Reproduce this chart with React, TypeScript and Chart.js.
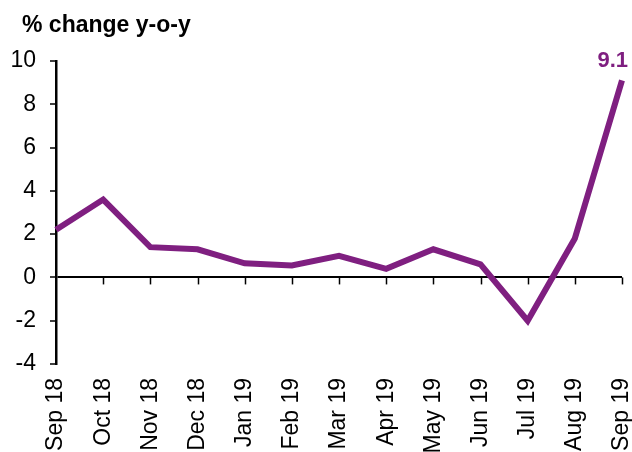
import React, { useEffect, useRef } from "react";
import { Chart, registerables } from "chart.js";

Chart.register(...registerables);

const categories = ["Sep 18", "Oct 18", "Nov 18", "Dec 18", "Jan 19", "Feb 19", "Mar 19", "Apr 19", "May 19", "Jun 19", "Jul 19", "Aug 19", "Sep 19"];
const values = [2.2, 3.6, 1.4, 1.3, 0.65, 0.55, 1.0, 0.4, 1.3, 0.6, -2.0, 1.8, 9.1];
const yTicks = [-4, -2, 0, 2, 4, 6, 8, 10];
const titleText = "% change y-o-y";
const lastLabel = "9.1";

const PURPLE = "#7f1f80";
const FONT = "'Liberation Sans', Arial, sans-serif";

export default function App() {
  const ref = useRef<HTMLCanvasElement | null>(null);

  useEffect(() => {
    if (!ref.current) return;
    const overlay = {
      id: "overlay",
      afterDraw(chart: any) {
        const ctx = chart.ctx;
        const x = chart.scales.x;
        const y = chart.scales.y;
        const y0 = y.getPixelForValue(0);
        ctx.save();
        ctx.strokeStyle = "#000";
        ctx.lineWidth = 1.5;
        for (let i = 1; i < categories.length; i++) {
          const px = Math.round(x.getPixelForValue(i)) + 0.5;
          ctx.beginPath();
          ctx.moveTo(px, y0);
          ctx.lineTo(px, y0 + 7);
          ctx.stroke();
        }
        // value label
        const li = values.length - 1;
        const lx = x.getPixelForValue(li);
        const ly = y.getPixelForValue(values[li]);
        ctx.fillStyle = PURPLE;
        ctx.font = `bold 22px ${FONT}`;
        ctx.textAlign = "right";
        ctx.textBaseline = "alphabetic";
        ctx.fillText(lastLabel, lx + 6, ly - 13);
        // title
        ctx.fillStyle = "#000";
        ctx.textAlign = "left";
        ctx.font = `bold 23px ${FONT}`;
        ctx.fillText(titleText, 22, 32);
        ctx.restore();
      },
    };

    const chart = new Chart(ref.current, {
      type: "line",
      data: {
        labels: categories,
        datasets: [
          {
            data: values,
            borderColor: PURPLE,
            borderWidth: 6,
            pointRadius: 0,
            tension: 0,
            fill: false,
            clip: 10,
            borderJoinStyle: "miter",
          } as any,
        ],
      },
      options: {
        animation: false,
        responsive: false,
        devicePixelRatio: 1,
        layout: { padding: { top: 61, right: 10, left: 0, bottom: 0 } },
        plugins: { legend: { display: false }, tooltip: { enabled: false }, title: { display: false } },
        scales: {
          x: {
            type: "category",
            offset: false,
            grid: { display: false, drawTicks: false },
            border: { display: false },
            ticks: {
              minRotation: 90,
              maxRotation: 90,
              padding: 14,
              color: "#000",
              autoSkip: false,
              font: { family: FONT, size: 23 },
            },
            afterFit: (s: any) => {
              s.height = 88;
              s.paddingLeft = 0;
              s.paddingRight = 0;
            },
          },
          y: {
            min: -4,
            max: 10,
            afterBuildTicks: (s: any) => {
              s.ticks = yTicks.map((v) => ({ value: v }));
            },
            grid: {
              color: (c: any) => (c.tick && c.tick.value === 0 ? "#000" : "rgba(0,0,0,0)"),
              lineWidth: 2,
              drawTicks: true,
              tickLength: 6,
              tickColor: "#000",
              tickWidth: 1.5,
            },
            border: { display: true, color: "#000", width: 2.5 },
            ticks: {
              padding: 14,
              color: "#000",
              font: { family: FONT, size: 23 },
            },
            afterFit: (s: any) => {
              s.width = 56;
              s.paddingTop = 0;
              s.paddingBottom = 0;
            },
          },
        },
      },
      plugins: [overlay],
    } as any);
    return () => chart.destroy();
  }, []);

  return (
    <div style={{ position: "fixed", left: 0, top: 0, width: 632, height: 452 }}>
      <canvas ref={ref} width={632} height={452} style={{ display: "block", width: 632, height: 452 }} />
    </div>
  );
}
